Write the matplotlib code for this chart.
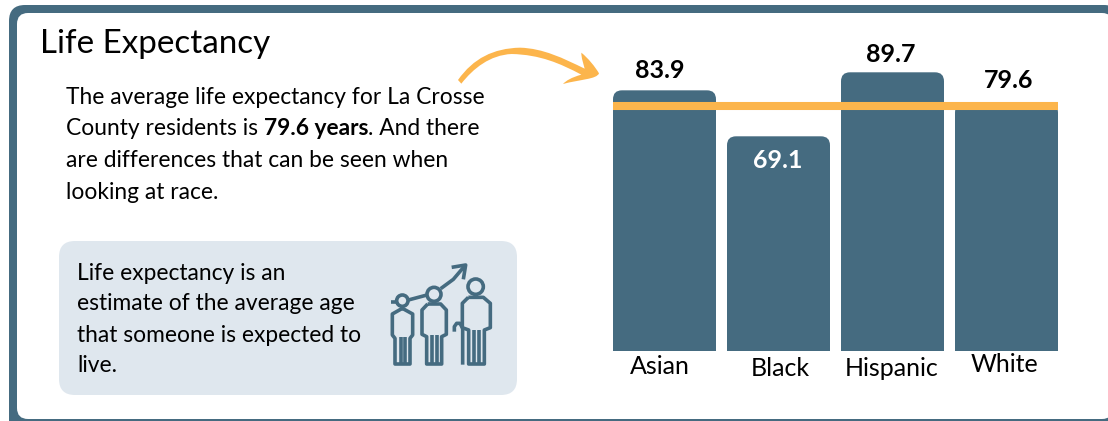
import matplotlib
matplotlib.use("Agg")
import matplotlib.pyplot as plt
from matplotlib.patches import FancyBboxPatch, PathPatch, Circle
from matplotlib.path import Path
from matplotlib.transforms import Affine2D

plt.rcParams["font.family"] = ["Lato", "DejaVu Sans"]

W, H = 1108, 421

TEAL = "#456b80"
ORANGE = "#fcb54c"
PANEL = "#dfe7ee"

# chart values
groups = ["Asian", "Black", "Hispanic", "White"]
life_exp = [83.9, 69.1, 89.7, 79.6]
county_avg = 79.6

# label nudges in pixels, (dx, dy) from the bar top or the axis
value_offsets = [(-5, 20), (-1, -24), (-2, 18), (2, 23)]
value_colors = ["black", "white", "black", "black"]
name_offsets = [(-5, -15), (2, -18), (-1, -18), (-2, -14)]

body_lines = [
    "The average life expectancy for La Crosse",
    ["County residents is ", "79.6 years", ". And there"],
    "are differences that can be seen when",
    "looking at race.",
]
note_lines = [
    "Life expectancy is an",
    "estimate of the average age",
    "that someone is expected to",
    "live.",
]


def rounded_box(ax, x0, y0, x1, y1, r, color, zorder=1):
    box = FancyBboxPatch((x0 + r, y0 + r), x1 - x0 - 2 * r, y1 - y0 - 2 * r,
                         boxstyle=f"round,pad={r},rounding_size={r}",
                         fc=color, ec="none", zorder=zorder)
    ax.add_patch(box)


def rounded_bar_path(x0, x1, top, rx, ry):
    verts = [(x0, 0), (x0, top - ry), (x0, top), (x0 + rx, top),
             (x1 - rx, top), (x1, top), (x1, top - ry), (x1, 0), (x0, 0)]
    codes = [Path.MOVETO, Path.LINETO, Path.CURVE3, Path.CURVE3,
             Path.LINETO, Path.CURVE3, Path.CURVE3, Path.LINETO, Path.CLOSEPOLY]
    return Path(verts, codes)


def stroke(ax, pts, lw=2.0, closed=False, color=TEAL):
    xs = [p[0] for p in pts]
    ys = [p[1] for p in pts]
    if closed:
        xs.append(xs[0])
        ys.append(ys[0])
    ax.plot(xs, ys, color=color, lw=lw, solid_capstyle="butt",
            solid_joinstyle="round", zorder=4)


def draw_icon(ax):
    # grid coordinates: 3 units per pixel around (360, 240)
    def g(pts):
        return [(360 + x / 3, 240 + y / 3) for x, y in pts]

    lw = 2.6
    for cx, cy, r in [(127, 182, 17), (222, 163, 21), (347, 140, 23)]:
        ax.add_patch(Circle((360 + cx / 3, 240 + cy / 3), r / 3, fc="none",
                            ec=TEAL, lw=lw, zorder=4))

    # child
    stroke(ax, g([(127, 205), (158, 222), (158, 285), (150, 295), (150, 372),
                  (105, 372), (105, 295), (97, 285), (97, 222)]), lw, closed=True)
    stroke(ax, g([(122, 292), (122, 372)]), lw)
    stroke(ax, g([(136, 292), (136, 372)]), lw)
    # adult
    stroke(ax, g([(203, 192), (242, 192), (259, 210), (259, 283), (245, 290),
                  (245, 372), (200, 372), (200, 290), (186, 283), (186, 210)]),
           lw, closed=True)
    stroke(ax, g([(215, 285), (215, 372)]), lw)
    stroke(ax, g([(231, 285), (231, 372)]), lw)
    # elder with cane
    stroke(ax, g([(325, 172), (370, 172), (391, 190), (391, 263), (373, 270),
                  (373, 372), (326, 372), (326, 270), (307, 263), (307, 190)]),
           lw, closed=True)
    stroke(ax, g([(342, 270), (342, 372)]), lw)
    stroke(ax, g([(357, 270), (357, 372)]), lw)
    stroke(ax, g([(308, 374), (308, 265), (300, 250), (290, 250), (283, 260), (283, 275)]), lw)
    # rising arrow through the heads
    stroke(ax, g([(93, 185), (110, 185)]), lw)
    stroke(ax, g([(145, 180), (201, 165)]), lw)
    stroke(ax, g([(242, 146), (280, 118), (314, 78)]), lw)
    stroke(ax, g([(275, 82), (317, 75), (310, 118)]), lw)


def draw_swoosh(ax):
    def g(x, y):
        return (440 + x / 3, 30 + y / 3)

    verts = [g(54, 150),
             g(100, 85), g(160, 55), g(240, 53),
             g(310, 55), g(370, 85), g(434, 116),
             g(430, 100), g(424, 85), g(424, 68),
             g(445, 85), g(465, 110), g(477, 130),
             g(470, 148), g(420, 148), g(369, 162),
             g(378, 152), g(395, 142), g(424, 134),
             g(360, 100), g(300, 74), g(215, 72),
             g(150, 75), g(100, 115), g(64, 161),
             g(54, 150)]
    codes = [Path.MOVETO] + [Path.CURVE4] * 24 + [Path.CLOSEPOLY]
    ax.add_patch(PathPatch(Path(verts, codes), fc=ORANGE, ec="none", zorder=5))


def main():
    fig = plt.figure(figsize=(W / 100, H / 100), dpi=100, facecolor="white")

    # page layer in pixel coordinates, y running down
    bg = fig.add_axes([0, 0, 1, 1])
    bg.set_xlim(0, W)
    bg.set_ylim(H, 0)
    bg.axis("off")

    rounded_box(bg, 9, 5, 1120, 440, 16, TEAL, zorder=1)
    rounded_box(bg, 17, 13, 1113, 419, 11, "white", zorder=2)
    rounded_box(bg, 59, 241, 517, 395, 16, PANEL, zorder=3)

    bg.text(40, 44, "Life Expectancy", fontsize=23.9, color="black",
            va="center", ha="left", zorder=6)

    renderer = fig.canvas.get_renderer()
    for i, line in enumerate(body_lines):
        y = 97 + i * 31.7
        if isinstance(line, str):
            bg.text(66, y, line, fontsize=16.4, va="center", zorder=6)
        else:
            x = 66
            for j, part in enumerate(line):
                t = bg.text(x, y, part, fontsize=16.4, va="center", zorder=6,
                            fontweight="bold" if j == 1 else "normal")
                x = t.get_window_extent(renderer).x1

    for i, line in enumerate(note_lines):
        bg.text(77, 273 + i * 31, line, fontsize=16.4, va="center", zorder=6)

    draw_icon(bg)
    draw_swoosh(bg)

    # bar chart, zero sits at y=351 and one unit is about 3.107 pixels
    step, bar_w = 114, 103
    ax = fig.add_axes([613 / W, (H - 351) / H, (1058 - 613) / W, 330 / H])
    ax.patch.set_alpha(0)
    half = bar_w / step / 2
    ax.set_xlim(-half, 3 + half)
    ax.set_ylim(0, 330 / 3.107)
    ax.axis("off")

    rx, ry = 9 / step, 9 / 3.107
    for i, v in enumerate(life_exp):
        path = rounded_bar_path(i - half, i + half, v, rx, ry)
        ax.add_patch(PathPatch(path, fc=TEAL, ec="none", zorder=2))
        dx, dy = value_offsets[i]
        ax.annotate(f"{v:.1f}", (i, v), xytext=(dx * 0.72, dy * 0.72),
                    textcoords="offset points", ha="center", va="center",
                    fontsize=18, fontweight="bold", color=value_colors[i],
                    zorder=4, annotation_clip=False)
        dx, dy = name_offsets[i]
        ax.annotate(groups[i], (i, 0), xytext=(dx * 0.72, dy * 0.72),
                    textcoords="offset points", ha="center", va="center",
                    fontsize=18, color="black", annotation_clip=False)

    # average line sits a touch under the value so the white bar top stays hidden
    line_tf = ax.transData + Affine2D().translate(0, -2)
    ax.plot([-half, 3 + half], [county_avg, county_avg], color=ORANGE, lw=5.8,
            solid_capstyle="butt", zorder=3, transform=line_tf)

    fig.savefig("out.png", dpi=100, facecolor="white")


if __name__ == "__main__":
    main()
